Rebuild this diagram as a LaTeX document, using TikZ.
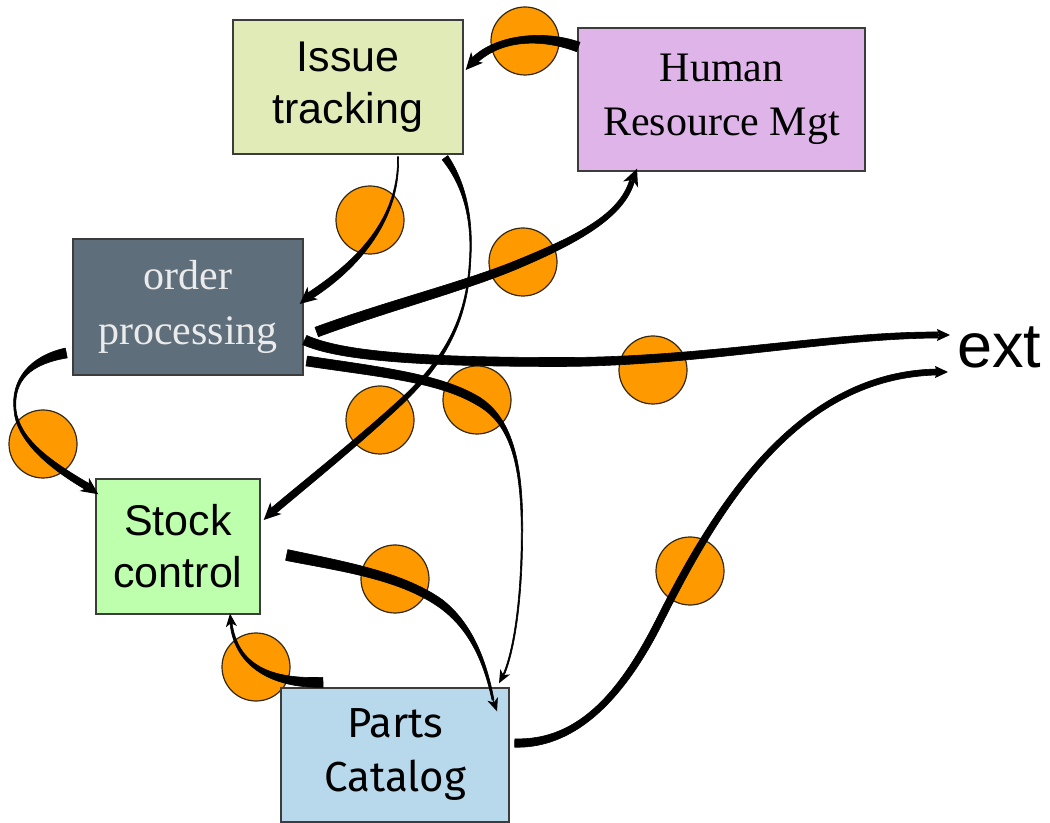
\documentclass[tikz,border=0pt]{standalone}
\usepackage{fontspec}
\setmainfont{Liberation Serif}
\newfontfamily\fsans{Liberation Sans}
\newfontfamily\fserif{Liberation Serif}
\newfontfamily\fcomic{Fira Sans}
\usetikzlibrary{calc,arrows.meta}
\definecolor{issuefill}{RGB}{225,235,183}
\definecolor{hrfill}{RGB}{223,181,233}
\definecolor{orderfill}{RGB}{94,110,123}
\definecolor{stockfill}{RGB}{190,255,174}
\definecolor{partsfill}{RGB}{184,216,236}
\definecolor{boxline}{RGB}{60,60,60}
\definecolor{orangeball}{RGB}{255,153,0}
\definecolor{ballline}{RGB}{50,40,20}
\definecolor{ordertext}{RGB}{235,235,235}
% tapered Bezier segment: start, ctrl1, ctrl2, end, half widths at each
\newcommand{\tseg}[8]{%
  \filldraw[black,line width=0.3pt,line join=round]
    ($(#1)!#5!90:(#2)$) .. controls ($(#2)!#6!-90:(#1)$) and ($(#3)!#7!90:(#4)$) .. ($(#4)!#8!-90:(#3)$)
    -- ($(#4)!#8!90:(#3)$) .. controls ($(#3)!#7!-90:(#4)$) and ($(#2)!#6!90:(#1)$) .. ($(#1)!#5!-90:(#2)$) -- cycle;}
\begin{document}
\begin{tikzpicture}[x=0.5pt,y=-0.5pt,
  box/.style={draw=boxline, line width=0.7pt, inner sep=0pt, align=center},
  ball/.style={fill=orangeball, draw=ballline, line width=0.6pt},
  bigtip/.style={line width=0.6pt, -{Stealth[length=8.5pt,width=8pt,inset=2.5pt]}},
  smalltip/.style={line width=0.5pt, -{Stealth[length=6.5pt,width=5.5pt,inset=1.8pt]}},
  exttip/.style={line width=0.6pt, -{Stealth[length=6.5pt,width=6pt,inset=1pt]}}]
\useasboundingbox (0,0) rectangle (1050,823);
% circles
\filldraw[ball] (525,41) circle[radius=17pt];
\filldraw[ball] (370,220) circle[radius=17pt];
\filldraw[ball] (380,420) circle[radius=17pt];
\filldraw[ball] (523,262) circle[radius=17pt];
\filldraw[ball] (653,370) circle[radius=17pt];
\filldraw[ball] (477,400) circle[radius=17pt];
\filldraw[ball] (43,444) circle[radius=17pt];
\filldraw[ball] (395,579) circle[radius=17pt];
\filldraw[ball] (256,667) circle[radius=17pt];
\filldraw[ball] (690,571) circle[radius=17pt];
% boxes
\node[box, fill=issuefill, minimum width=115pt, minimum height=67pt,
  font=\fsans\fontsize{21.5pt}{26pt}\selectfont] (issue) at (348,87) {Issue\\tracking};
\node[box, fill=hrfill, minimum width=143.5pt, minimum height=71.5pt,
  font=\fserif\fontsize{21pt}{27pt}\selectfont] (hr) at (721.5,99.5) {Human\\Resource Mgt};
\node[box, fill=orderfill, text=ordertext, minimum width=115pt, minimum height=68pt,
  font=\fserif\fontsize{21pt}{27.5pt}\selectfont] (order) at (188,307) {order\\processing};
\node[box, fill=stockfill, minimum width=82pt, minimum height=67.5pt,
  font=\fsans\fontsize{21.5pt}{26pt}\selectfont] (stock) at (178,546.5) {Stock\\control};
\node[box, fill=partsfill, minimum width=114pt, minimum height=67pt,
  font=\fcomic\fontsize{21pt}{27pt}\selectfont] (parts) at (395,755) {Parts\\Catalog};
\node[inner sep=0pt, anchor=base west, font=\fsans\fontsize{31.5pt}{36pt}\selectfont] (ext) at (957,368) {ext};
% connector end points
\coordinate (s1) at ([shift={(1,-52.5)}]hr.west);
\coordinate (t1) at ([shift={(2,-17)}]issue.east);
\coordinate (s2) at ([shift={(50,2)}]issue.south);
\coordinate (t2) at ([shift={(-4,-3)}]order.east);
\coordinate (s3) at ([shift={(97,3)}]issue.south);
\coordinate (t3) at ([shift={(3,-26.5)}]stock.east);
\coordinate (s4) at ([shift={(13,25)}]order.east);
\coordinate (t4) at ([shift={(-84.5,-3)}]hr.south);
\coordinate (s5) at ([shift={(1,33)}]order.east);
\coordinate (t5) at ([shift={(-7,-33)}]ext.base west);
\coordinate (s6) at ([shift={(3,54)}]order.east);
\coordinate (t6) at ([shift={(104,-4)}]parts.north);
\coordinate (s7) at ([shift={(-6,46)}]order.west);
\coordinate (t7) at ([shift={(3,16)}]stock.north west);
\coordinate (s8) at ([shift={(26,8.5)}]stock.east);
\coordinate (t8) at ([shift={(102,24)}]parts.north);
\coordinate (s9) at ([shift={(-72,-5)}]parts.north);
\coordinate (t9) at ([shift={(52,-1)}]stock.south);
\coordinate (s10) at ([shift={(5,-12)}]parts.east);
\coordinate (t10) at ([shift={(-9,4)}]ext.base west);
% HR -> Issue
\coordinate (e1) at (472,63);
\tseg{s1}{540,33}{495,38}{e1}{2.5pt}{2.25pt}{2pt}{1.75pt}
\draw[bigtip] (e1) -- (t1);
% Issue -> order
\coordinate (e2) at (308,297);
\tseg{s2}{400,225}{350,270}{e2}{0.25pt}{0.5pt}{2pt}{1.75pt}
\draw[bigtip] (e2) -- (t2);
% Issue -> stock
\coordinate (m3a) at (470,262);
\coordinate (m3b) at (403,400);
\coordinate (e3) at (272,512);
\tseg{s3}{465,185}{473,220}{m3a}{1.75pt}{1pt}{0.35pt}{0.35pt}
\tseg{m3a}{467,320}{445,360}{m3b}{0.35pt}{0.5pt}{0.9pt}{1.25pt}
\tseg{m3b}{360,440}{315,476}{e3}{1.25pt}{1.5pt}{1.75pt}{1.75pt}
\draw[bigtip] (e3) -- (t3);
% order -> HR
\coordinate (m4) at (523,262);
\coordinate (e4) at (632,181);
\tseg{s4}{390,305}{470,285}{m4}{2.5pt}{2.5pt}{2.25pt}{2pt}
\tseg{m4}{580,238}{622,215}{e4}{2pt}{1.75pt}{1.5pt}{1.25pt}
\draw[bigtip] (e4) -- (t4);
% order -> ext
\coordinate (m5) at (560,362);
\coordinate (e5) at (938,335);
\tseg{s5}{340,356}{420,362}{m5}{2.5pt}{2.5pt}{2.25pt}{2.25pt}
\tseg{m5}{700,362}{830,335}{e5}{2.25pt}{2pt}{1.75pt}{1.5pt}
\draw[exttip] (e5) -- (t5);
% order -> parts
\coordinate (m6a) at (478,401);
\coordinate (m6b) at (522,530);
\coordinate (e6) at (504,674);
\tseg{s6}{380,372}{440,378}{m6a}{2.5pt}{2.5pt}{2.25pt}{2pt}
\tseg{m6a}{510,420}{522,460}{m6b}{2pt}{1.25pt}{0.6pt}{0.35pt}
\tseg{m6b}{522,600}{514,650}{e6}{0.35pt}{0.35pt}{0.35pt}{0.35pt}
\draw[smalltip] (e6) -- (t6);
% order -> stock
\coordinate (m7) at (15,410);
\coordinate (e7) at (88,487);
\tseg{s7}{30,360}{12,380}{m7}{2.5pt}{2pt}{0.75pt}{0.5pt}
\tseg{m7}{18,440}{50,465}{e7}{0.5pt}{1pt}{1.75pt}{1.75pt}
\draw[bigtip] (e7) -- (t7);
% stock -> parts
\coordinate (m8) at (440,603);
\coordinate (e8) at (493,700);
\tseg{s8}{340,566}{400,575}{m8}{2.75pt}{2.5pt}{2.25pt}{2pt}
\tseg{m8}{470,625}{485,660}{e8}{2pt}{1.5pt}{0.75pt}{0.5pt}
\draw[smalltip] (e8) -- (t8);
% parts -> stock
\coordinate (e9) at (231,623);
\tseg{s9}{270,684}{236,665}{e9}{2.5pt}{2.25pt}{1pt}{0.5pt}
\draw[smalltip] (e9) -- (t9);
% parts -> ext
\coordinate (m10) at (660,620);
\coordinate (e10) at (937,372);
\tseg{s10}{580,745}{625,690}{m10}{2.1pt}{2pt}{1.9pt}{1.8pt}
\tseg{m10}{720,500}{800,375}{e10}{1.8pt}{1.8pt}{1.7pt}{1.5pt}
\draw[exttip] (e10) -- (t10);
\end{tikzpicture}
\end{document}
